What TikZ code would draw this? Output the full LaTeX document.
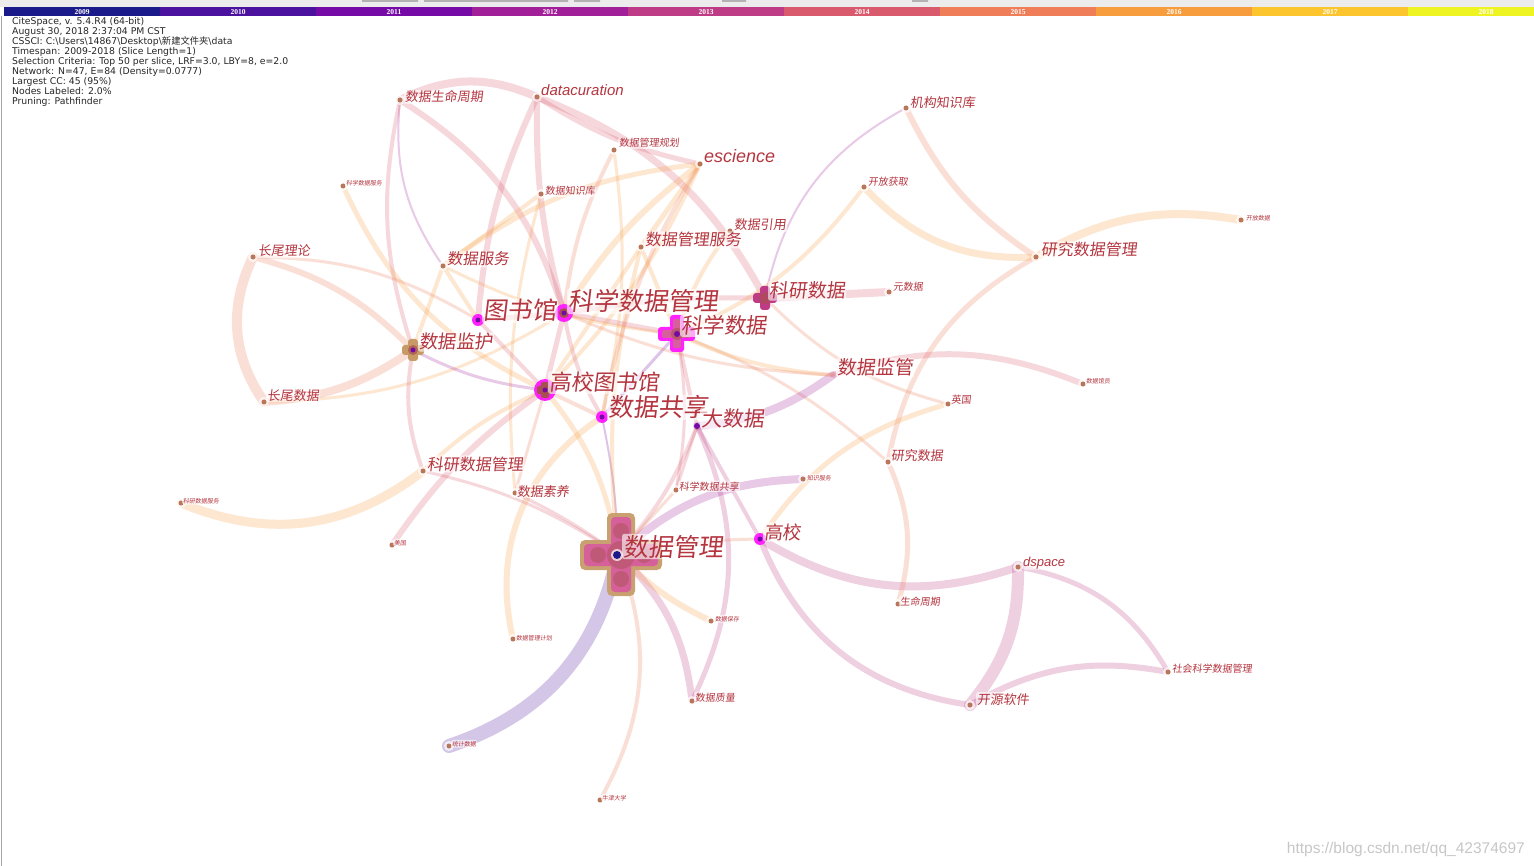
\documentclass[tikz,border=0pt]{standalone}
\usepackage{fontspec}
\setmainfont{Liberation Sans}
\newfontfamily\cjk{Noto Sans CJK SC}[FakeSlant=0.12]
\newfontfamily\cjkup{Noto Sans CJK SC}
\newfontfamily\yrfont{Liberation Serif}
\newfontfamily\infofont{DejaVu Sans}
\usetikzlibrary{calc}
\definecolor{y2009}{HTML}{1B1A8A}
\definecolor{y2010}{HTML}{4A129E}
\definecolor{y2011}{HTML}{760AA6}
\definecolor{y2012}{HTML}{A1209A}
\definecolor{y2013}{HTML}{BE3C85}
\definecolor{y2014}{HTML}{D9596D}
\definecolor{y2015}{HTML}{EE7D58}
\definecolor{y2016}{HTML}{F89D3E}
\definecolor{y2017}{HTML}{FCC42D}
\definecolor{y2018}{HTML}{EEF422}
\definecolor{lblred}{HTML}{B4353F}
\definecolor{barbg}{HTML}{ECECEC}
\definecolor{dotc}{HTML}{B8765A}
\definecolor{hubmag}{HTML}{FF22FF}
\definecolor{crtan}{HTML}{C9A070}
\definecolor{crpink}{HTML}{D5609A}
\definecolor{crbrown}{HTML}{A8504F}
\tikzset{>=latex}
\tikzset{
  lk/.style={line cap=round, draw opacity=0.24},
  lbl/.style={text=lblred, anchor=base west, inner sep=1pt, fill=white,
    fill opacity=0.6, text opacity=1, rounded corners=2pt},
}
\newcommand\fsz[1]{\fontsize{#1}{#1}\selectfont}

\begin{document}
\begin{tikzpicture}[x=1pt,y=-1pt]
  \useasboundingbox (0,0) rectangle (1534,866);
  \clip (0,0) rectangle (1534,866);
  \fill[white] (0,0) rectangle (1534,866);

  % Timeline
  \fill[barbg] (0,0) rectangle (1534,7);
  \fill[gray!60] (362,0) rectangle (418,2) (424,0) rectangle (568,2) (574,0) rectangle (600,2)
    (722,0) rectangle (746,2) (912,0) rectangle (928,2);
  \draw[gray!70] (1,16) -- (1,866);
  \foreach \yr [count=\i from 0] in {2009,...,2018} {
    \fill[y\yr] ({4+156*\i},7) rectangle ({4+156*(\i+1)},16);
    \node[font=\yrfont\bfseries\fsz{7.5}, text=white, inner sep=0pt] (yr\yr) at ({82+156*\i},12) {\yr};
  }

  % Info
  \node[anchor=north west, align=left, inner sep=0pt, text=black!85,
    font=\infofont\fontsize{9.3}{10}\selectfont] (info) at (12,17.5) {CiteSpace, v. 5.4.R4 (64-bit)\\
    August 30, 2018 2:37:04 PM CST\\
    CSSCI: C:\textbackslash Users\textbackslash 14867\textbackslash Desktop\textbackslash{\cjkup 新建文件夹}\textbackslash data\\
    Timespan: 2009-2018 (Slice Length=1)\\
    Selection Criteria: Top 50 per slice, LRF=3.0, LBY=8, e=2.0\\
    Network: N=47, E=84 (Density=0.0777)\\
    Largest CC: 45 (95\%)\\
    Nodes Labeled: 2.0\%\\
    Pruning: Pathfinder};

  % Vertices
  \coordinate (sjgl) at (618,554);
  \coordinate (kxsjgl) at (564,313);
  \coordinate (tsg) at (478,320);
  \coordinate (kxsj) at (677,334);
  \coordinate (sjjh) at (413,350);
  \coordinate (gxtsg) at (545,390);
  \coordinate (sjgx) at (602,417);
  \coordinate (dsj) at (697,426);
  \coordinate (kysj) at (765,298);
  \coordinate (sjjg) at (833,375);
  \coordinate (gx) at (760,539);
  \coordinate (kysjgl) at (423,471);
  \coordinate (sjsy) at (515,493);
  \coordinate (sjfw) at (443,266);
  \coordinate (cwll) at (253,257);
  \coordinate (cwsj) at (264,402);
  \coordinate (sjsmzq) at (400,100);
  \coordinate (dcur) at (537,97);
  \coordinate (sjglgh) at (614,150);
  \coordinate (esci) at (700,164);
  \coordinate (sjzsk) at (541,194);
  \coordinate (sjglfw) at (641,247);
  \coordinate (sjyy) at (730,231);
  \coordinate (jgzsk) at (906,108);
  \coordinate (kfhq) at (864,187);
  \coordinate (yjsjgl) at (1036,257);
  \coordinate (kfsj) at (1241,220);
  \coordinate (ysj) at (889,292);
  \coordinate (yg) at (948,404);
  \coordinate (yjsj) at (888,462);
  \coordinate (sjgy) at (1083,384);
  \coordinate (kxsjgx) at (676,490);
  \coordinate (zsfw) at (803,479);
  \coordinate (dsp) at (1018,567);
  \coordinate (smzq) at (898,604);
  \coordinate (shkx) at (1168,672);
  \coordinate (kyrj) at (970,705);
  \coordinate (sjzl) at (692,701);
  \coordinate (sjbc) at (711,621);
  \coordinate (sjglj) at (513,639);
  \coordinate (tjsj) at (449,746);
  \coordinate (njdx) at (600,800);
  \coordinate (kxsjfw) at (343,186);
  \coordinate (kysjfw) at (181,503);
  \coordinate (mg) at (392,545);

  % Lines
  \draw[lk, y2010, line width=14] (sjgl) to[bend left=30] (tjsj);
  \draw[lk, y2015, line width=4] (sjgl) to[bend left=25] (njdx);
  \draw[lk, y2013, line width=7] (sjgl) to[bend left=20] (sjzl);
  \draw[lk, y2013, line width=5] (sjzl) to[bend right=25] (dsj);
  \draw[lk, y2016, line width=6] (sjgl) to[bend right=10] (sjbc);
  \draw[lk, y2016, line width=6] (sjglj) to[bend left=35] (sjgx);
  \draw[lk, y2015, line width=3] (sjgl) to[bend left=5] (gx);
  \draw[lk, y2012, line width=8] (sjgl) to[bend left=20] (zsfw);
  \draw[lk, y2011, line width=2] (sjgl) to[bend right=5] (sjgx);
  \draw[lk, y2014, line width=3] (sjgl) to[bend right=10] (kysjgl);
  \draw[lk, y2014, line width=3] (sjgl) to[bend right=5] (sjsy);
  \draw[lk, y2014, line width=4] (sjgl) to[bend right=10] (dsj);
  \draw[lk, y2015, line width=3] (sjgl) to (kxsjgx);
  \draw[lk, y2016, line width=4] (sjgl) to[bend left=10] (sjglfw);
  \draw[lk, y2016, line width=5] (sjgl) to[bend right=15] (gxtsg);
  \draw[lk, y2013, line width=8] (gx) to[bend right=25] (dsp);
  \draw[lk, y2013, line width=6] (gx) to[bend right=30] (kyrj);
  \draw[lk, y2013, line width=12] (dsp) to[bend left=20] (kyrj);
  \draw[lk, y2013, line width=5] (dsp) to[bend left=25] (shkx);
  \draw[lk, y2013, line width=6] (kyrj) to[bend left=20] (shkx);
  \draw[lk, y2015, line width=5] (yjsj) to[bend left=20] (smzq);
  \draw[lk, y2015, line width=5] (yjsj) to[bend left=25] (yjsjgl);
  \draw[lk, y2015, line width=6] (yjsjgl) to[bend left=15] (jgzsk);
  \draw[lk, y2016, line width=7] (yjsjgl) to[bend left=25] (kfhq);
  \draw[lk, y2016, line width=8] (yjsjgl) to[bend left=20] (kfsj);
  \draw[lk, y2012, line width=2] (jgzsk) to[bend right=25] (kysj);
  \draw[lk, y2014, line width=8] (sjsmzq) to[bend left=25] (dcur);
  \draw[lk, y2012, line width=2] (sjsmzq) to[bend right=20] (sjfw);
  \draw[lk, y2014, line width=4] (sjsmzq) to[bend right=15] (sjjh);
  \draw[lk, y2014, line width=6] (sjsmzq) to[bend left=20] (kxsjgl);
  \draw[lk, y2014, line width=6] (dcur) to[bend right=10] (tsg);
  \draw[lk, y2014, line width=6] (dcur) to[bend right=8] (kxsjgl);
  \draw[lk, y2014, line width=5] (dcur) to[bend right=10] (esci);
  \draw[lk, y2014, line width=7] (dcur) to[bend left=20] (kysj);
  \draw[lk, y2016, line width=6] (esci) to[bend right=10] (kxsjgl);
  \draw[lk, y2016, line width=5] (esci) to[bend right=15] (sjfw);
  \draw[lk, y2016, line width=4] (esci) to[bend left=10] (gxtsg);
  \draw[lk, y2016, line width=5] (esci) to (sjglfw);
  \draw[lk, y2015, line width=4] (esci) to[bend right=10] (sjgx);
  \draw[lk, y2015, line width=4] (sjglgh) to[bend right=10] (kxsjgl);
  \draw[lk, y2016, line width=3] (sjglgh) to[bend left=10] (sjgx);
  \draw[lk, y2016, line width=4] (sjzsk) to (sjfw);
  \draw[lk, y2016, line width=3] (sjzsk) to[bend right=10] (sjsy);
  \draw[lk, y2016, line width=5] (kxsjfw) to[bend right=20] (gxtsg);
  \draw[lk, y2015, line width=10] (cwll) to[bend right=30] (cwsj);
  \draw[lk, y2015, line width=6] (cwll) to[bend left=15] (sjjh);
  \draw[lk, y2015, line width=3] (cwll) to[bend left=15] (tsg);
  \draw[lk, y2015, line width=8] (cwsj) to[bend right=15] (sjjh);
  \draw[lk, y2016, line width=3] (cwsj) to[bend right=15] (kxsjgl);
  \draw[lk, y2014, line width=4] (sjjh) to[bend right=15] (kysjgl);
  \draw[lk, y2012, line width=3] (sjjh) to[bend right=10] (gxtsg);
  \draw[lk, y2016, line width=4] (sjjh) to (sjfw);
  \draw[lk, y2016, line width=9] (kysjgl) to[bend left=30] (kysjfw);
  \draw[lk, y2016, line width=4] (kysjgl) to[bend left=10] (gxtsg);
  \draw[lk, y2014, line width=6] (mg) to[bend left=10] (gxtsg);
  \draw[lk, y2015, line width=3] (sjsy) to (gxtsg);
  \draw[lk, y2014, line width=3] (kxsjgx) to[bend right=10] (kxsj);
  \draw[lk, y2011, line width=3] (kxsj) to (sjgx);
  \draw[lk, y2014, line width=4] (kxsj) to (dsj);
  \draw[lk, y2015, line width=3] (kxsj) to[bend left=10] (yjsj);
  \draw[lk, y2016, line width=4] (kxsj) to[bend right=10] (sjjg);
  \draw[lk, y2014, line width=5] (kxsj) to (kxsjgl);
  \draw[lk, y2016, line width=4] (kxsj) to (sjglfw);
  \draw[lk, y2016, line width=4] (kxsj) to[bend left=10] (sjyy);
  \draw[lk, y2016, line width=4] (kxsj) to[bend right=15] (kfhq);
  \draw[lk, y2012, line width=8] (dsj) to[bend right=15] (sjjg);
  \draw[lk, y2014, line width=3] (dsj) to (kxsjgx);
  \draw[lk, y2014, line width=6] (sjjg) to[bend left=20] (sjgy);
  \draw[lk, y2015, line width=3] (sjjg) to[bend left=10] (kxsjgl);
  \draw[lk, y2014, line width=8] (kysj) to (ysj);
  \draw[lk, y2014, line width=5] (kysj) to[bend right=5] (kxsjgl);
  \draw[lk, y2015, line width=3] (kysj) to[bend right=15] (yg);
  \draw[lk, y2016, line width=5] (gx) to[bend left=20] (yg);
  \draw[lk, y2013, line width=4] (gx) to (dsj);
  \draw[lk, y2014, line width=4] (tsg) to (gxtsg);
  \draw[lk, y2014, line width=5] (tsg) to (kxsjgl);
  \draw[lk, y2016, line width=4] (tsg) to (sjfw);
  \draw[lk, y2014, line width=5] (kxsjgl) to (gxtsg);
  \draw[lk, y2014, line width=4] (kxsjgl) to[bend right=10] (sjgx);
  \draw[lk, y2015, line width=4] (gxtsg) to (sjgx);
  \draw[lk, y2016, line width=4] (sjglfw) to (gxtsg);
  \draw[lk, y2016, line width=3] (sjyy) to (sjglfw);
  \draw[lk, y2016, line width=3] (sjfw) to[bend right=10] (kxsj);

  % Small vertices
  \foreach \n in {sjsy,sjfw,cwll,cwsj,sjsmzq,dcur,sjglgh,esci,sjzsk,sjglfw,sjyy,jgzsk,kfhq,yjsjgl,
      kfsj,ysj,yg,yjsj,sjgy,kxsjgx,zsfw,dsp,smzq,shkx,kyrj,sjzl,sjbc,sjglj,tjsj,njdx,kxsjfw,
      kysjfw,mg,kysjgl} {
    \fill[white, opacity=0.7] (\n) circle (5);
    \fill[dotc] (\n) circle (2.5);
  }
  \fill[y2011] (dsj) circle (3);

  % Hub vertices
  \begin{scope}[shift={(621,555)}]
    \fill[crtan, rounded corners=5] (-41,-15) rectangle (41,15) (-14,-42) rectangle (14,41);
    \fill[crpink, rounded corners=4] (-37,-11) rectangle (37,11) (-10,-38) rectangle (10,37);
    \fill[crbrown, opacity=0.45] (0,0) circle (14) (-23,0) circle (8) (23,0) circle (8)
      (0,-24) circle (8) (0,24) circle (8);
    \fill[white, opacity=0.7] (-4,0) circle (6);
    \fill[y2009] (-4,0) circle (4);
  \end{scope}
  \begin{scope}[shift={(kxsj)}]
    \fill[hubmag, rounded corners=3] (-19,-7) rectangle (18,7) (-7,-19) rectangle (7,18);
    \fill[crpink, rounded corners=2] (-15,-4) rectangle (14,4) (-4,-15) rectangle (4,14);
    \fill[crbrown, opacity=0.6] (0,0) circle (6);
    \fill[y2011] (0,0) circle (3);
  \end{scope}
  \begin{scope}[shift={(kysj)}]
    \fill[y2013, rounded corners=3] (-12,-5) rectangle (12,5) (-5,-12) rectangle (5,12);
    \fill[crbrown, opacity=0.6] (0,0) circle (6);
  \end{scope}
  \begin{scope}[shift={(sjjh)}]
    \fill[crtan!80!brown, rounded corners=3] (-11,-5) rectangle (11,5) (-5,-11) rectangle (5,11);
    \fill[crbrown, opacity=0.7] (0,0) circle (5);
    \fill[y2011] (0,0) circle (2.5);
  \end{scope}
  \fill[hubmag] (gxtsg) circle (11);
  \begin{scope}[shift={(gxtsg)}]
    \fill[crbrown, rounded corners=2] (-8,-4) rectangle (8,4) (-4,-8) rectangle (4,8);
    \fill[y2011] (0,0) circle (2.5);
  \end{scope}
  \fill[hubmag] (kxsjgl) circle (9);
  \fill[crbrown] (kxsjgl) circle (5);
  \fill[y2011] (kxsjgl) circle (2.5);
  \foreach \n in {tsg,sjgx,gx} {
    \fill[hubmag] (\n) circle (6);
    \fill[y2011] (\n) circle (2.5);
  }

  % Labels
  \node[lbl, font=\cjk\fsz{25}] (t-sjgl) at (622,556) {数据管理};
  \node[lbl, font=\cjk\fsz{25}] (t-kxsjgl) at (567,311) {科学数据管理};
  \node[lbl, font=\cjk\fsz{24.5}] (t-tsg) at (482,320) {图书馆};
  \node[lbl, font=\cjk\fsz{21.5}] (t-kxsj) at (680,334) {科学数据};
  \node[lbl, font=\cjk\fsz{18.5}] (t-sjjh) at (418,349) {数据监护};
  \node[lbl, font=\cjk\fsz{22}] (t-gxtsg) at (548,391) {高校图书馆};
  \node[lbl, font=\cjk\fsz{25}] (t-sjgx) at (607,417) {数据共享};
  \node[lbl, font=\cjk\fsz{21}] (t-dsj) at (700,426) {大数据};
  \node[lbl, font=\cjk\fsz{19}] (t-kysj) at (768,298) {科研数据};
  \node[lbl, font=\cjk\fsz{19}] (t-sjjg) at (836,375) {数据监管};
  \node[lbl, font=\cjk\fsz{18.5}] (t-gx) at (763,539) {高校};
  \node[lbl, font=\cjk\fsz{16}] (t-kysjgl) at (426,470) {科研数据管理};
  \node[lbl, font=\cjk\fsz{15.5}] (t-sjfw) at (446,265) {数据服务};
  \node[lbl, font=\cjk\fsz{16}] (t-sjglfw) at (644,246) {数据管理服务};
  \node[lbl, font=\cjk\fsz{16}] (t-yjsjgl) at (1040,256) {研究数据管理};
  \node[lbl, font=\itshape\fsz{18}] (t-esci) at (703,163) {escience};
  \node[lbl, font=\itshape\fsz{15}] (t-dcur) at (540,96) {datacuration};
  \node[lbl, font=\cjk\fsz{13}] (t-cwll) at (257,256) {长尾理论};
  \node[lbl, font=\cjk\fsz{13}] (t-cwsj) at (266,400) {长尾数据};
  \node[lbl, font=\cjk\fsz{13}] (t-sjsy) at (516,496) {数据素养};
  \node[lbl, font=\cjk\fsz{13}] (t-sjyy) at (733,230) {数据引用};
  \node[lbl, font=\cjk\fsz{13}] (t-jgzsk) at (909,108) {机构知识库};
  \node[lbl, font=\cjk\fsz{13}] (t-sjsmzq) at (404,102) {数据生命周期};
  \node[lbl, font=\itshape\fsz{13}] (t-dsp) at (1022,566) {dspace};
  \node[lbl, font=\cjk\fsz{13}] (t-kyrj) at (976,704) {开源软件};
  \node[lbl, font=\cjk\fsz{13}] (t-yjsj) at (890,460) {研究数据};
  \node[lbl, font=\cjk\fsz{10}] (t-sjzl) at (694,701) {数据质量};
  \node[lbl, font=\cjk\fsz{10}] (t-smzq) at (899,605) {生命周期};
  \node[lbl, font=\cjk\fsz{10}] (t-shkx) at (1171,672) {社会科学数据管理};
  \node[lbl, font=\cjk\fsz{10}] (t-kfhq) at (867,186) {开放获取};
  \node[lbl, font=\cjk\fsz{10}] (t-ysj) at (892,291) {元数据};
  \node[lbl, font=\cjk\fsz{10}] (t-yg) at (950,403) {英国};
  \node[lbl, font=\cjk\fsz{10}] (t-sjglgh) at (618,147) {数据管理规划};
  \node[lbl, font=\cjk\fsz{10}] (t-sjzsk) at (544,195) {数据知识库};
  \node[lbl, font=\cjk\fsz{10}] (t-kxsjgx) at (678,490) {科学数据共享};
  \node[lbl, font=\cjk\fsz{6}] (t-kxsjfw) at (345,186) {科学数据服务};
  \node[lbl, font=\cjk\fsz{6}] (t-kfsj) at (1245,221) {开放数据};
  \node[lbl, font=\cjk\fsz{6}] (t-sjgy) at (1085,384) {数据馆员};
  \node[lbl, font=\cjk\fsz{6}] (t-kysjfw) at (182,503) {科研数据服务};
  \node[lbl, font=\cjk\fsz{6}] (t-mg) at (393,545) {美国};
  \node[lbl, font=\cjk\fsz{6}] (t-zsfw) at (806,480) {知识服务};
  \node[lbl, font=\cjk\fsz{6}] (t-sjglj) at (515,640) {数据管理计划};
  \node[lbl, font=\cjk\fsz{6}] (t-sjbc) at (714,621) {数据保存};
  \node[lbl, font=\cjk\fsz{6}] (t-tjsj) at (451,746) {统计数据};
  \node[lbl, font=\cjk\fsz{6}] (t-njdx) at (601,800) {牛津大学};

  % Watermark
  \node[anchor=base east, inner sep=0pt, text=black!22, font=\fsz{15.5}] (wm) at (1525,853) {https://blog.csdn.net/qq\_42374697};
\end{tikzpicture}
\end{document}
